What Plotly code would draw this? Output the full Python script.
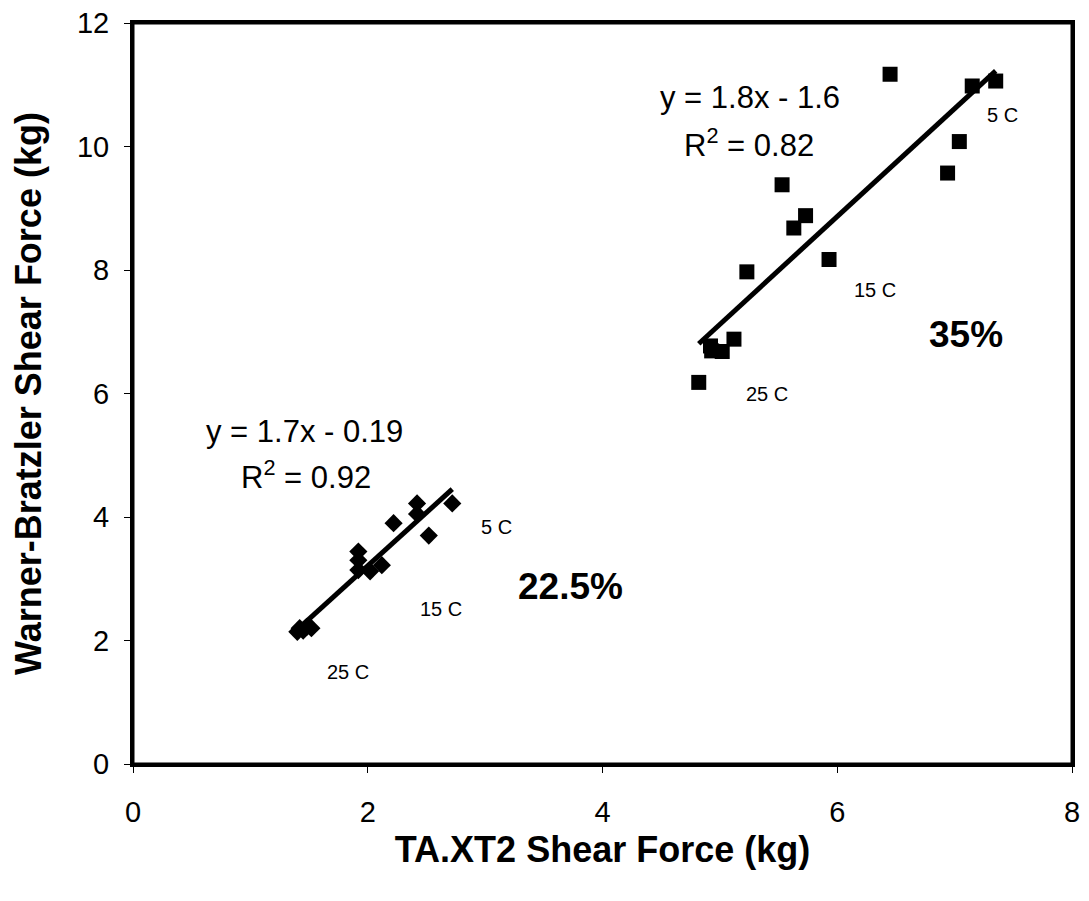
import numpy as np
import plotly.graph_objects as go

# 22.5% group (diamonds)
x_225 = [2.72, 2.42, 2.42, 2.22, 2.52, 1.92, 1.92, 1.92, 2.02, 2.12, 1.40, 1.42, 1.48, 1.52, 1.45]
y_225 = [4.22, 4.22, 4.05, 3.90, 3.70, 3.44, 3.30, 3.14, 3.12, 3.22, 2.14, 2.20, 2.22, 2.20, 2.16]

# 35% group (squares)
x_35 = [6.45, 7.15, 7.35, 7.04, 6.94, 5.53, 5.73, 5.63, 5.93, 5.23, 5.12, 4.93, 5.02, 4.92, 4.82]
y_35 = [11.17, 10.98, 11.06, 10.08, 9.57, 9.38, 8.88, 8.68, 8.17, 7.97, 6.88, 6.69, 6.68, 6.77, 6.18]

x_ticks = [0, 2, 4, 6, 8]
y_ticks = [0, 2, 4, 6, 8, 10, 12]

FONT = "Liberation Sans, Arial, sans-serif"

def trend(xs, ys):
    k, b = np.polyfit(xs, ys, 1)
    xr = np.array([min(xs), max(xs)])
    return xr, k * xr + b

fig = go.Figure()
for xs, ys in [(x_225, y_225), (x_35, y_35)]:
    xr, yr = trend(xs, ys)
    fig.add_trace(go.Scatter(x=xr, y=yr, mode="lines",
                             line=dict(color="black", width=5), showlegend=False))
fig.add_trace(go.Scatter(x=x_225, y=y_225, mode="markers",
                         marker=dict(symbol="diamond", size=14, color="black"),
                         showlegend=False))
fig.add_trace(go.Scatter(x=x_35, y=y_35, mode="markers",
                         marker=dict(symbol="square", size=15, color="black"),
                         showlegend=False))

annots = [
    ("y = 1.7x - 0.19", 1.46, 5.39, 31, False),
    ("R<sup>2</sup> = 0.92", 1.47, 4.68, 31, False),
    ("y = 1.8x - 1.6", 5.26, 10.80, 31, False),
    ("R<sup>2</sup> = 0.82", 5.25, 10.06, 31, False),
    ("5 C", 3.10, 3.84, 20, False),
    ("15 C", 2.62, 2.51, 20, False),
    ("25 C", 1.83, 1.49, 20, False),
    ("22.5%", 3.73, 2.88, 37, True),
    ("5 C", 7.41, 10.51, 20, False),
    ("15 C", 6.32, 7.68, 20, False),
    ("25 C", 5.40, 6.00, 20, False),
    ("35%", 7.10, 6.96, 37, True),
]
for txt, ax, ay, sz, bold in annots:
    fig.add_annotation(x=ax, y=ay, text=("<b>%s</b>" % txt) if bold else txt,
                       showarrow=False, xref="x", yref="y",
                       font=dict(family=FONT, size=sz, color="black"))

# plot frame
fig.add_shape(type="rect", xref="paper", yref="paper", x0=0, x1=1, y0=0, y1=1,
              line=dict(color="black", width=3), layer="above")

fig.update_layout(
    width=1081, height=893,
    margin=dict(l=125, r=17, t=15, b=137),
    paper_bgcolor="white", plot_bgcolor="white",
    font=dict(family=FONT, color="black"),
)
fig.update_xaxes(range=[0, 8], tickvals=x_ticks, showgrid=False, zeroline=False,
                 showline=True, linecolor="black", linewidth=3, mirror=True,
                 ticks="outside", ticklen=6, tickwidth=1, tickcolor="black",
                 ticklabelstandoff=14, ticklabeloverflow="allow", automargin=False,
                 tickfont=dict(size=29, family=FONT),
                 title=dict(text="<b>TA.XT2 Shear Force (kg)</b>", font=dict(size=36, family=FONT), standoff=11))
fig.update_yaxes(range=[0, 12], tickvals=y_ticks, showgrid=False, zeroline=False,
                 showline=True, linecolor="black", linewidth=3, mirror=True,
                 ticks="outside", ticklen=6, tickwidth=1, tickcolor="black",
                 ticklabelstandoff=9, ticklabeloverflow="allow", automargin=False,
                 tickfont=dict(size=29, family=FONT),
                 title=dict(text="<b>Warner-Bratzler Shear Force (kg)</b>", font=dict(size=36, family=FONT), standoff=33))

fig.write_html("out.html")
